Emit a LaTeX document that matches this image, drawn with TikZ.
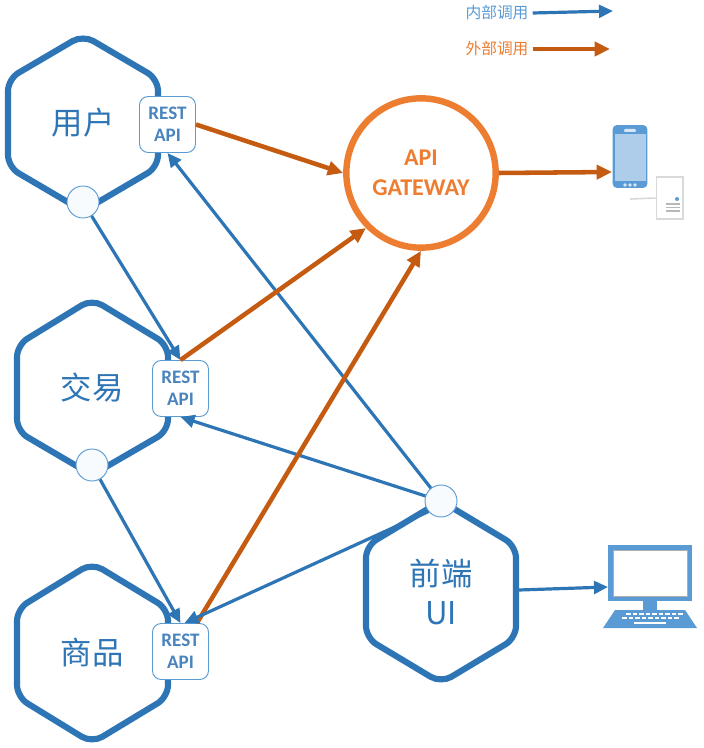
\documentclass[tikz,border=0pt]{standalone}
\usepackage{fontspec}
\setmainfont{Carlito}
\newfontfamily\cjk{Noto Sans CJK SC}
\usetikzlibrary{arrows.meta}
\definecolor{bl}{HTML}{2E75B6}
\definecolor{lb}{HTML}{5B9BD5}
\definecolor{og}{HTML}{C55A11}
\definecolor{lo}{HTML}{ED7D31}
\definecolor{rt}{HTML}{4A84BE}
\definecolor{gr}{HTML}{D9D9D9}
\tikzset{
 hexa/.style={draw=bl,line width=4.6pt,rounded corners=9pt,fill=white},
 hexlabel/.style={text=bl,font=\cjk\fontsize{23.5}{29}\selectfont,align=center,inner sep=0pt},
 restbox/.style={draw=lb,line width=0.7pt,fill=white,rounded corners=6.5pt,minimum width=42pt,minimum height=42pt,inner sep=0pt,align=center,text=rt,font=\fontsize{14.3}{16.5}\selectfont\bfseries},
 port/.style={circle,draw=lb,line width=0.7pt,fill=white!96!lb,minimum size=24pt,inner sep=0pt},
 gate/.style={circle,draw=lo,line width=4.8pt,fill=white,minimum size=112pt,inner sep=0pt,align=center,text=lo,font=\fontsize{18}{22.5}\selectfont\bfseries},
 inarrow/.style={draw=bl,line width=2.4pt,-{Triangle[length=10.5pt,width=9.5pt]}},
 exarrow/.style={draw=og,line width=3.4pt,-{Triangle[length=11.5pt,width=10.5pt]}},
 legendtext/.style={font=\cjk\fontsize{11.8}{13}\selectfont,inner sep=0pt},
 iconblue/.style={fill=lb,draw=none},
}
\begin{document}
\begin{tikzpicture}[x=0.75pt,y=-0.75pt]
\useasboundingbox (0,0) rectangle (703,748);
% hexagons
\draw[hexa] (83,35) -- (158,79) -- (158,167) -- (83,211) -- (8,167) -- (8,79) -- cycle;
\draw[hexa] (92,299) -- (168,345) -- (168,431) -- (92,475) -- (17,431) -- (17,345) -- cycle;
\draw[hexa] (92,563) -- (168,609) -- (168,697) -- (92,743) -- (17,697) -- (17,609) -- cycle;
\draw[hexa] (441,501) -- (516,546) -- (516,638) -- (441,683) -- (366,638) -- (366,546) -- cycle;
\node[hexlabel] (h1) at (83,123) {用户};
\node[hexlabel] (h2) at (92,388) {交易};
\node[hexlabel] (h3) at (92,653) {商品};
\node[hexlabel] (h4) at (441,592) {前端\\UI};
% gateway
\node[gate] (gw) at (421,173) {API\\GATEWAY};
% REST boxes and ports
\node[restbox] (r1) at (167.5,124.5) {REST\\API};
\node[restbox] (r2) at (180.5,388.5) {REST\\API};
\node[restbox] (r3) at (180.5,651.5) {REST\\API};
\node[port] (c1) at (83,202) {};
\node[port] (c2) at (92,465) {};
\node[port] (c4) at (441,501) {};
% phone and server
\node[draw=gr,line width=1pt,fill=white,minimum width=20pt,minimum height=31.5pt,inner sep=0pt] (server) at (669.5,198) {};
\draw[gr,line width=1.2pt] (630,199) -- (server.west);
\fill[lb] (677,199) circle (1.5pt);
\foreach \yy in {204,207.5,211}{\draw[gr!85!black,line width=0.9pt] (666,\yy) -- (680,\yy);}
\node[iconblue,rounded corners=3pt,minimum width=26pt,minimum height=47pt,inner sep=0pt] (phone) at (630,156.5) {};
\fill[fill=lb!50!white] (615,134) rectangle (646,181);
\fill[white!75!lb,rounded corners=0.8pt] (624,129) rectangle (636,132);
\foreach \xx in {625,630,635}{\fill[white!75!lb] (\xx,185) circle (1.4pt);}
\coordinate (phonein) at (612,172);
% monitor
\node[iconblue,minimum width=63pt,minimum height=42pt,inner sep=0pt] (monitor) at (650,573) {};
\draw[gr!80!black,fill=white,line width=0.7pt] (613,550) rectangle (687,596);
\fill[lb] (643,601) rectangle (657,610);
\fill[lb] (615,610) -- (685,610) -- (697,628) -- (603,628) -- cycle;
\foreach \xx in {622,628.5,...,674}{\fill[white] (\xx+4,613) rectangle +(4.5,2.2);\fill[white] (\xx,617) rectangle +(4.8,2.2);}
\fill[white] (634,621.5) rectangle (666,624);
\coordinate (monitorin) at (608,587);
\coordinate (h4out) at (519,590);
% connectors
\draw[inarrow] (c1) -- (r2.north);
\draw[inarrow] (c2) -- (r3.north);
\draw[inarrow] (c4) -- (r1.south);
\draw[inarrow] (c4) -- (r2.south);
\draw[exarrow] (r1.east) -- (gw.west);
\draw[exarrow] (r2.north) -- (gw.225);
\draw[exarrow] (r3.60) -- (gw.south);
\draw[inarrow] (c4.-140) -- ([xshift=3pt]r3.north);
\draw[exarrow] (gw.east) -- (phonein);
\draw[inarrow] (h4out) -- (monitorin);
% legend
\node[legendtext,text=lb] (l1) at (497,13) {内部调用};
\node[legendtext,text=lo] (l2) at (497,49) {外部调用};
\coordinate (l1end) at (613,11);
\coordinate (l2end) at (610,49);
\draw[inarrow] ([xshift=3pt]l1.east) -- (l1end);
\draw[exarrow] ([xshift=3pt]l2.east) -- (l2end);
\end{tikzpicture}
\end{document}
